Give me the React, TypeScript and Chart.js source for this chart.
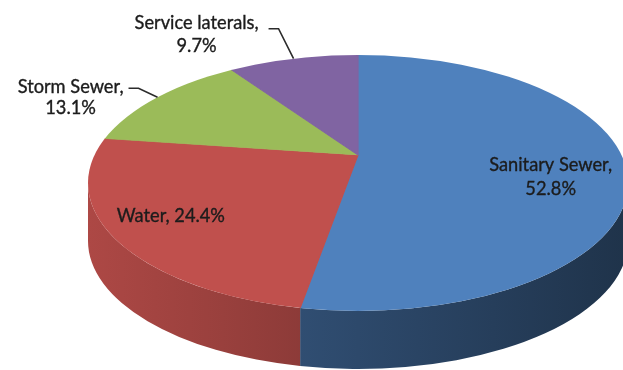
import { useEffect, useRef } from "react";
import { Chart, registerables } from "chart.js";

Chart.register(...registerables);

// ---- data ----
const categories = ["Sanitary Sewer", "Water", "Storm Sewer", "Service laterals"];
const shares = [52.8, 24.4, 13.1, 9.7];
const topColors = ["#4F81BD", "#C0504D", "#9BBB59", "#8064A2"];
const sideMul = [0.82, 1, 1, 1];

// ---- style / geometry ----
const W = 623;
const H = 370;
const CX = 358; // centre of the top ellipse
const CY = 183;
const RX = 270;
const RY = 128;
const APEX_Y = 155; // where the slices meet (perspective)
const TILT = 0.47;
const DEPTH = 58;
const FAMILY = "Lato, 'Open Sans', sans-serif";
const REF_TEXT = "Service laterals,";
const REF_WIDTH = 124;

type LabelStyle =
  | { kind: "inside"; f: number; dx: number; dy: number; lines: number }
  | { kind: "outside"; ex: number; ey: number; tail: number; lines: number; gap: number; lineH: number; firstDy: number };

const labelStyles: LabelStyle[] = [
  { kind: "inside", f: 0.72, dx: 0, dy: 14, lines: 2 },
  { kind: "inside", f: 0.76, dx: -2, dy: -2, lines: 1 },
  { kind: "outside", ex: -19, ey: -9, tail: 10, lines: 2, gap: 5, lineH: 21, firstDy: -1 },
  { kind: "outside", ex: -15, ey: -30, tail: 10, lines: 2, gap: 10, lineH: 23, firstDy: -6 },
];

function hexToRgb(h: string) {
  const n = parseInt(h.slice(1), 16);
  return [(n >> 16) & 255, (n >> 8) & 255, n & 255];
}
function shade(h: string, f: number) {
  const [r, g, b] = hexToRgb(h);
  return `rgb(${Math.round(r * f)},${Math.round(g * f)},${Math.round(b * f)})`;
}

function edgeHit(a: number) {
  const dx = Math.cos(a);
  const dy = TILT * Math.sin(a);
  const e = APEX_Y - CY;
  const A = (dx * dx) / (RX * RX) + (dy * dy) / (RY * RY);
  const B = (2 * e * dy) / (RY * RY);
  const C = (e * e) / (RY * RY) - 1;
  const t = (-B + Math.sqrt(B * B - 4 * A * C)) / (2 * A);
  const x = CX + dx * t;
  const y = APEX_Y + dy * t;
  let phi = Math.atan2((y - CY) / RY, (x - CX) / RX);
  if (phi < 0) phi += Math.PI * 2;
  return { x, y, t, phi, dx, dy };
}

const pie3d = {
  id: "pie3d",
  beforeDatasetsDraw(chart: any) {
    const ctx: CanvasRenderingContext2D = chart.ctx;
    const arcs = chart.getDatasetMeta(0).data as any[];
    if (!arcs.length) return;
    // side walls
    arcs.forEach((arc, i) => {
      const s = edgeHit(arc.startAngle).phi;
      let e = edgeHit(arc.endAngle).phi;
      if (e <= s) e += Math.PI * 2;
      const wins = [
        [0, Math.PI],
        [Math.PI * 2, Math.PI * 3],
      ];
      for (const [w0, w1] of wins) {
        const p0 = Math.max(s, w0);
        const p1 = Math.min(e, w1);
        if (p1 <= p0) continue;
        const base = topColors[i % topColors.length];
        const m = sideMul[i % sideMul.length];
        const g = ctx.createLinearGradient(CX - RX, 0, CX + RX, 0);
        for (let k = 0; k <= 4; k++) {
          const u = k / 4;
          g.addColorStop(u, shade(base, (0.9 - 0.42 * u) * m));
        }
        ctx.save();
        ctx.beginPath();
        ctx.ellipse(CX, CY, RX, RY, 0, p0, p1, false);
        ctx.ellipse(CX, CY + DEPTH, RX, RY, 0, p1, p0, true);
        ctx.closePath();
        ctx.fillStyle = g;
        ctx.fill();
        ctx.restore();
      }
    });
    // top face: clip to ellipse and map the library's arcs into perspective
    const arc0 = arcs[0];
    const sc = 380 / arc0.outerRadius;
    ctx.save();
    ctx.beginPath();
    ctx.ellipse(CX, CY, RX, RY, 0, 0, Math.PI * 2);
    ctx.clip();
    ctx.translate(CX, APEX_Y);
    ctx.scale(sc, sc * TILT);
    ctx.translate(-arc0.x, -arc0.y);
  },
  afterDatasetsDraw(chart: any) {
    chart.ctx.restore();
  },
  afterDraw(chart: any) {
    const ctx: CanvasRenderingContext2D = chart.ctx;
    const arcs = chart.getDatasetMeta(0).data as any[];
    ctx.save();
    ctx.font = `100px ${FAMILY}`;
    const size = (100 * REF_WIDTH) / ctx.measureText(REF_TEXT).width;
    ctx.font = `${size.toFixed(2)}px ${FAMILY}`;
    ctx.fillStyle = "#1c1c1c";
    ctx.strokeStyle = "#1c1c1c";
    ctx.lineWidth = 0.35;
    ctx.textBaseline = "middle";
    ctx.textAlign = "center";
    const put = (t: string, x: number, y: number) => {
      ctx.fillText(t, x, y);
      ctx.strokeText(t, x, y);
    };
    arcs.forEach((arc, i) => {
      const st = labelStyles[i];
      const mid = (arc.startAngle + arc.endAngle) / 2;
      const hit = edgeHit(mid);
      const lines =
        st.lines === 2 ? [`${categories[i]},`, `${shares[i]}%`] : [`${categories[i]}, ${shares[i]}%`];
      if (st.kind === "inside") {
        const x = CX + hit.dx * hit.t * st.f + st.dx;
        const y = APEX_Y + hit.dy * hit.t * st.f + st.dy;
        const lh = 24;
        lines.forEach((ln, k) => put(ln, x, y + (k - (lines.length - 1) / 2) * lh));
      } else {
        const ax = hit.x;
        const ay = hit.y;
        const bx = ax + st.ex;
        const by = ay + st.ey;
        const cx = bx - st.tail;
        ctx.save();
        ctx.strokeStyle = "#2b2b2b";
        ctx.lineWidth = 1.6;
        ctx.beginPath();
        ctx.moveTo(ax, ay);
        ctx.lineTo(bx, by);
        ctx.lineTo(cx, by);
        ctx.stroke();
        ctx.restore();
        const maxW = Math.max(...lines.map((l) => ctx.measureText(l).width));
        const right = cx - st.gap;
        const centerX = right - maxW / 2;
        lines.forEach((ln, k) => put(ln, centerX, by + st.firstDy + k * st.lineH));
      }
    });
    ctx.restore();
  },
};

export default function App() {
  const ref = useRef<HTMLCanvasElement | null>(null);
  useEffect(() => {
    document.body.style.margin = "0";
    const canvas = ref.current!;
    const chart = new Chart(canvas, {
      type: "pie",
      data: {
        labels: categories,
        datasets: [
          {
            data: shares,
            backgroundColor: topColors,
            borderColor: topColors,
            borderWidth: 0.6,
            clip: false as any,
          },
        ],
      },
      options: {
        responsive: false,
        animation: false,
        devicePixelRatio: 1,
        plugins: {
          legend: { display: false },
          tooltip: { enabled: false },
        },
        events: [],
      },
      plugins: [pie3d as any],
    });
    return () => chart.destroy();
  }, []);
  return (
    <div style={{ width: W, height: H, background: "#fff" }}>
      <canvas ref={ref} width={W} height={H} style={{ display: "block" }} />
    </div>
  );
}
